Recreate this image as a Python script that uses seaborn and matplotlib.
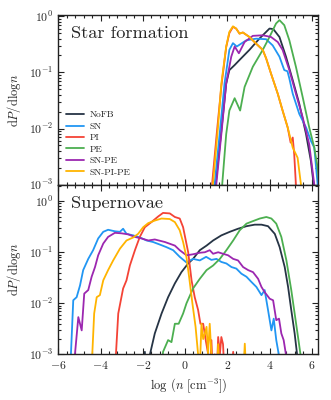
import numpy as np
import pandas as pd
import seaborn as sns
import matplotlib
matplotlib.use("Agg")
import matplotlib.pyplot as plt
from matplotlib.ticker import AutoMinorLocator, LogLocator, NullFormatter

models = ["NoFB", "SN", "PI", "PE", "SN-PE", "SN-PI-PE"]
colors = ["#263445", "#2196f3", "#f44336", "#4caf50", "#9c27b0", "#ffb400"]
panels = ["Star formation", "Supernovae"]

# log10(dP/dlogn), per model
sf_x = {
    "NoFB": [1.40, 1.45, 1.72, 1.95, 2.1, 2.35, 2.58, 3.05, 3.52, 4.0, 4.18, 4.47, 4.78, 5.1, 5.41, 5.73, 5.96, 6.09, 6.15],
    "SN": [1.36, 1.4, 1.64, 1.87, 2.1, 2.27, 2.45, 2.9, 3.37, 3.84, 4.15, 4.47, 4.7, 4.85, 4.94, 5.1, 5.41, 5.73, 5.96, 6.12, 6.28, 6.32],
    "PI": [1.24, 1.28, 1.5, 1.72, 1.95, 2.1, 2.27, 2.42, 2.58, 2.74, 3.05, 3.37, 3.68, 3.84, 4.07, 4.39, 4.62, 4.86, 5.0, 5.1, 5.17, 5.25, 5.3],
    "PE": [1.72, 1.76, 1.95, 2.1, 2.35, 2.61, 2.82, 3.21, 3.68, 4.0, 4.31, 4.47, 4.7, 4.94, 5.25, 5.57, 5.88, 6.12, 6.28, 6.35],
    "SN-PE": [1.44, 1.48, 1.72, 1.95, 2.19, 2.35, 2.55, 2.82, 3.21, 3.68, 4.07, 4.39, 4.62, 4.94, 5.25, 5.57, 5.88, 6.12, 6.16],
    "SN-PI-PE": [1.28, 1.32, 1.56, 1.72, 1.95, 2.1, 2.27, 2.42, 2.58, 2.74, 3.05, 3.37, 3.68, 3.84, 4.07, 4.39, 4.62, 4.86, 5.1, 5.33, 5.41, 5.49, 5.53],
}
sf_logy = {
    "NoFB": [-3.5, -3.0, -2.04, -1.2, -0.96, -0.87, -0.78, -0.6, -0.4, -0.22, -0.23, -0.37, -0.72, -1.14, -1.56, -2.1, -2.58, -3.0, -3.5],
    "SN": [-3.5, -3.0, -2.1, -1.2, -0.6, -0.48, -0.54, -0.43, -0.4, -0.41, -0.52, -0.72, -0.96, -0.98, -1.11, -1.38, -1.74, -1.98, -2.22, -2.34, -3.0, -3.5],
    "PI": [-3.5, -3.0, -2.1, -1.25, -0.55, -0.3, -0.19, -0.22, -0.31, -0.29, -0.37, -0.49, -0.6, -0.75, -1.02, -1.38, -1.68, -1.98, -2.25, -2.16, -2.46, -3.0, -3.5],
    "PE": [-3.5, -3.0, -2.1, -1.68, -1.46, -1.68, -1.26, -0.9, -0.6, -0.37, -0.13, -0.07, -0.16, -0.43, -0.9, -1.44, -1.98, -2.34, -2.7, -3.0],
    "SN-PE": [-3.5, -3.0, -2.1, -1.2, -0.72, -0.54, -0.66, -0.46, -0.35, -0.34, -0.37, -0.46, -0.6, -0.96, -1.38, -1.8, -2.28, -3.0, -3.5],
    "SN-PI-PE": [-3.5, -3.0, -1.98, -1.2, -0.54, -0.28, -0.18, -0.22, -0.31, -0.29, -0.37, -0.49, -0.6, -0.75, -1.02, -1.38, -1.68, -1.98, -2.34, -2.52, -2.76, -3.0, -3.5],
}

sn_x = {
    "NoFB": [-1.95, -1.9, -1.85, -1.7, -1.66, -1.43, -1.11, -0.8, -0.48, -0.17, 0.15, 0.38, 0.7, 1.02, 1.33, 1.72, 2.12, 2.51, 2.91, 3.3, 3.62, 3.93, 4.25, 4.48, 4.72, 4.88, 5.03, 5.19, 5.3, 5.35],
    "SN": [-5.5, -5.4, -5.29, -5.13, -4.97, -4.82, -4.58, -4.35, -4.11, -3.87, -3.64, -3.32, -3.08, -2.93, -2.77, -2.45, -2.14, -1.82, -1.51, -1.19, -0.88, -0.56, -0.25, 0.07, 0.38, 0.7, 1.0, 1.25, 1.49, 1.72, 1.96, 2.2, 2.43, 2.67, 2.91, 3.14, 3.38, 3.62, 3.77, 3.93, 4.09, 4.2, 4.32, 4.43, 4.47],
    "PI": [-3.3, -3.27, -3.16, -2.93, -2.77, -2.61, -2.37, -2.14, -1.9, -1.59, -1.27, -1.04, -0.72, -0.48, -0.25, -0.09, 0.15, 0.31, 0.46, 0.62, 0.73, 0.86, 0.98, 1.09, 1.17, 1.25, 1.33, 1.41, 1.49, 1.57, 1.65, 1.72, 1.8, 1.88, 2.2, 2.28, 2.36],
    "PE": [-1.15, -1.04, -0.8, -0.64, -0.48, -0.3, -0.09, 0.07, 0.38, 0.7, 1.02, 1.33, 1.65, 1.96, 2.28, 2.59, 2.91, 3.22, 3.54, 3.85, 4.09, 4.32, 4.56, 4.8, 5.03, 5.19, 5.35, 5.46, 5.5],
    "SN-PE": [-5.25, -5.21, -5.05, -4.89, -4.77, -4.58, -4.42, -4.26, -4.11, -3.87, -3.64, -3.32, -3.0, -2.69, -2.37, -2.06, -1.74, -1.43, -0.95, -0.48, -0.25, 0.07, 0.38, 0.7, 0.94, 1.17, 1.33, 1.57, 1.8, 2.04, 2.28, 2.51, 2.75, 2.99, 3.22, 3.46, 3.62, 3.77, 4.01, 4.17, 4.32, 4.45, 4.56, 4.67, 4.77, 4.8],
    "SN-PI-PE": [-4.45, -4.39, -4.3, -4.18, -4.03, -3.87, -3.64, -3.4, -3.08, -2.77, -2.45, -2.22, -1.98, -1.74, -1.43, -1.11, -0.72, -0.48, -0.25, -0.09, 0.07, 0.2, 0.35, 0.5, 0.62, 0.68, 0.78, 0.86, 0.94, 1.02, 1.09, 1.17, 1.25, 1.33, 1.5, 1.57, 1.65, 2.75, 2.83, 2.91],
}
sn_logy = {
    "NoFB": [-3.5, -2.95, -3.5, -3.5, -3.0, -2.59, -2.2, -1.88, -1.61, -1.39, -1.22, -1.13, -0.96, -0.87, -0.77, -0.67, -0.6, -0.54, -0.49, -0.46, -0.46, -0.49, -0.64, -0.9, -1.29, -1.68, -2.13, -2.59, -2.98, -3.5],
    "SN": [-3.5, -3.0, -1.94, -1.88, -1.65, -1.35, -1.13, -0.96, -0.73, -0.6, -0.56, -0.59, -0.6, -0.54, -0.64, -0.67, -0.71, -0.77, -0.8, -0.85, -0.9, -0.96, -1.09, -1.2, -1.13, -1.16, -1.09, -1.15, -1.13, -1.19, -1.22, -1.29, -1.32, -1.42, -1.48, -1.58, -1.68, -1.84, -1.74, -2.13, -2.53, -2.3, -2.72, -2.98, -3.5],
    "PI": [-3.5, -3.0, -2.2, -1.71, -1.55, -1.26, -0.96, -0.7, -0.51, -0.41, -0.3, -0.23, -0.24, -0.31, -0.34, -0.51, -1.0, -1.55, -1.88, -2.13, -2.4, -2.4, -2.72, -2.98, -3.5, -2.72, -3.5, -3.0, -3.5, -2.66, -3.0, -2.66, -2.8, -3.5, -3.5, -2.95, -3.5],
    "PE": [-3.5, -2.95, -2.72, -2.76, -2.4, -2.4, -2.2, -2.0, -1.71, -1.52, -1.35, -1.26, -1.13, -0.96, -0.77, -0.57, -0.44, -0.39, -0.34, -0.31, -0.34, -0.44, -0.7, -1.16, -1.74, -2.2, -2.66, -2.98, -3.5],
    "SN-PE": [-3.5, -3.0, -2.27, -2.53, -1.81, -1.74, -1.48, -1.29, -1.06, -0.83, -0.7, -0.62, -0.63, -0.65, -0.7, -0.73, -0.77, -0.75, -0.8, -0.87, -0.96, -1.06, -1.04, -1.01, -1.0, -0.96, -1.03, -1.0, -1.03, -1.06, -1.13, -1.16, -1.29, -1.35, -1.39, -1.52, -1.68, -1.78, -1.91, -1.94, -2.33, -2.3, -2.59, -2.72, -2.98, -3.5],
    "SN-PI-PE": [-3.5, -3.0, -2.2, -1.88, -1.84, -1.55, -1.35, -1.16, -0.93, -0.77, -0.71, -0.64, -0.51, -0.43, -0.38, -0.34, -0.35, -0.41, -0.57, -0.8, -1.1, -1.5, -2.0, -2.46, -3.0, -3.5, -2.4, -2.7, -2.59, -2.46, -2.98, -2.4, -3.0, -3.5, -3.5, -2.8, -3.5, -3.5, -2.79, -3.5],
}


def to_frame(xs, logys):
    rows = []
    for m in models:
        for i, (x, ly) in enumerate(zip(xs[m], logys[m])):
            rows.append({"model": m, "order": i, "logn": x, "dP": 10.0 ** ly})
    return pd.DataFrame(rows)


sns.set_theme(style="ticks")
plt.rcParams["font.family"] = "serif"
plt.rcParams["font.serif"] = ["cmr10", "DejaVu Serif"]
plt.rcParams["mathtext.fontset"] = "cm"
plt.rcParams["axes.formatter.use_mathtext"] = True
plt.rcParams["axes.unicode_minus"] = False

fig, axes = plt.subplots(2, 1, figsize=(3.31, 4.0), dpi=100, sharex=True)
fig.subplots_adjust(left=0.176, right=0.961, top=0.9625, bottom=0.114, hspace=0)

palette = dict(zip(models, colors))
frames = [to_frame(sf_x, sf_logy), to_frame(sn_x, sn_logy)]
ylims = [(1e-3, 1.05), (1e-3, 2.1)]

for ax, df, title, yl in zip(axes, frames, panels, ylims):
    sns.lineplot(data=df, x="logn", y="dP", hue="model", hue_order=models,
                 palette=palette, units="model", estimator=None, sort=False,
                 lw=1.3, ax=ax, legend=False)
    ax.set_yscale("log")
    ax.set_ylim(*yl)
    ax.set_xlim(-6, 6.3)
    ax.set_ylabel(r"$\mathrm{d}P/\mathrm{dlog}n$", fontsize=9, labelpad=4)
    ax.set_xlabel("")
    ax.text(0.05, 0.935, title, transform=ax.transAxes, va="top", ha="left", fontsize=13.2)
    ax.xaxis.set_minor_locator(AutoMinorLocator(5))
    ax.yaxis.set_major_locator(LogLocator(base=10, numticks=10))
    ax.yaxis.set_minor_locator(LogLocator(base=10, subs=np.arange(2, 10), numticks=20))
    ax.yaxis.set_minor_formatter(NullFormatter())
    ax.tick_params(which="both", direction="in", top=True, right=True, labelsize=8.5, width=0.8, color="#222222")
    ax.tick_params(which="major", length=4)
    ax.tick_params(which="minor", length=2)
    for s in ax.spines.values():
        s.set_linewidth(1.0)
        s.set_color("#222222")

axes[1].set_xlabel(r"$\log\;(n\;[\mathrm{cm}^{-3}])$", fontsize=9)
axes[1].set_xticks([-6, -4, -2, 0, 2, 4, 6])

handles = [plt.Line2D([], [], color=c, lw=1.3) for c in colors]
axes[0].legend(handles, models, loc="lower left", bbox_to_anchor=(0.0, 0.0), frameon=False,
               fontsize=6.8, handlelength=1.9, handletextpad=0.6, labelspacing=0.3,
               borderaxespad=0.45)

fig.savefig("out.png", dpi=100)
